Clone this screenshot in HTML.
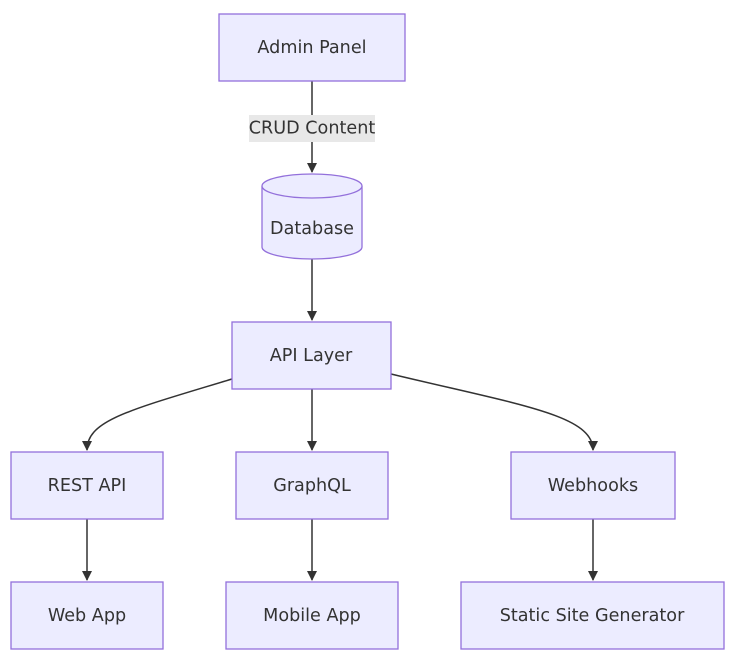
<!DOCTYPE html>
<html><head><style>
html,body{margin:0;padding:0;background:#fff;}
svg{display:block}
text{font-family:"DejaVu Sans","Liberation Sans",sans-serif;font-size:17.6px;fill:#333;text-anchor:middle;dominant-baseline:central}
.n{fill:#ECECFF;stroke:#9370DB;stroke-width:1.3}
.e{fill:none;stroke:#333;stroke-width:1.5}
</style></head><body>
<svg width="730" height="663" viewBox="0 0 730 663">
<defs><marker id="a" viewBox="0 0 10 10" refX="9" refY="5" markerWidth="10" markerHeight="10" markerUnits="userSpaceOnUse" orient="auto"><path d="M0,0L10,5L0,10z" fill="#333"/></marker></defs>
<path class="e" d="M312,81V172" marker-end="url(#a)"/>
<path class="e" d="M312,259V320" marker-end="url(#a)"/>
<path class="e" d="M312,389V450" marker-end="url(#a)"/>
<path class="e" d="M232,379C130,410 87,420 87,450" marker-end="url(#a)"/>
<path class="e" d="M391,374C520,405 593,415 593,450" marker-end="url(#a)"/>
<path class="e" d="M87,519V580" marker-end="url(#a)"/>
<path class="e" d="M312,519V580" marker-end="url(#a)"/>
<path class="e" d="M593,519V580" marker-end="url(#a)"/>
<rect class="n" x="219" y="14" width="186" height="67"/><text x="312" y="48">Admin Panel</text>
<rect x="249" y="115" width="126" height="27" fill="#e8e8e8"/><text x="312" y="128.5">CRUD Content</text>
<path class="n" d="M262,186V247A50,12 0 0 0 362,247V186"/>
<ellipse class="n" cx="312" cy="186" rx="50" ry="12"/>
<text x="312" y="229">Database</text>
<rect class="n" x="232" y="322" width="159" height="67"/><text x="311" y="356">API Layer</text>
<rect class="n" x="11" y="452" width="152" height="67"/><text x="87" y="486">REST API</text>
<rect class="n" x="236" y="452" width="152" height="67"/><text x="312" y="486">GraphQL</text>
<rect class="n" x="511" y="452" width="164" height="67"/><text x="593" y="486">Webhooks</text>
<rect class="n" x="11" y="582" width="152" height="67"/><text x="87" y="616">Web App</text>
<rect class="n" x="226" y="582" width="172" height="67"/><text x="312" y="616">Mobile App</text>
<rect class="n" x="461" y="582" width="263" height="67"/><text x="592" y="616">Static Site Generator</text>
</svg>
</body></html>
